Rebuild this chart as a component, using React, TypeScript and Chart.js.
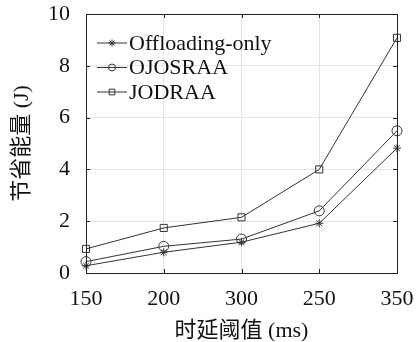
import React, { useEffect, useRef } from "react";
import { Chart, registerables } from "chart.js";

Chart.register(...registerables);

const categories = ["150", "200", "300", "250", "350"];
const offloadingOnly = [0.28, 0.8, 1.19, 1.92, 4.82];
const ojosraa = [0.44, 1.03, 1.31, 2.4, 5.49];
const jodraa = [0.93, 1.74, 2.15, 4.0, 9.08];
const yTicks = [0, 2, 4, 6, 8, 10];

const SERIF = "'Liberation Serif', 'Noto Sans CJK SC', serif";
const LINE = "#333333";

function drawMarker(ctx: CanvasRenderingContext2D, style: string, r: number, x: number, y: number) {
  ctx.save();
  ctx.strokeStyle = LINE;
  ctx.lineWidth = 1;
  ctx.beginPath();
  if (style === "circle") {
    ctx.arc(x, y, r, 0, Math.PI * 2);
  } else if (style === "rect") {
    const s = Math.SQRT1_2 * r;
    ctx.rect(x - s, y - s, 2 * s, 2 * s);
  } else if (style === "star") {
    ctx.moveTo(x - r, y);
    ctx.lineTo(x + r, y);
    ctx.moveTo(x, y - r);
    ctx.lineTo(x, y + r);
    const d = r * Math.SQRT1_2;
    ctx.moveTo(x - d, y - d);
    ctx.lineTo(x + d, y + d);
    ctx.moveTo(x - d, y + d);
    ctx.lineTo(x + d, y - d);
  }
  ctx.stroke();
  ctx.restore();
}

const innerTicks = {
  id: "innerTicks",
  afterDatasetsDraw(chart: any) {
    const { ctx, chartArea: a, scales } = chart;
    const x = scales.x;
    const y = scales.y;
    const len = 4;
    ctx.save();
    ctx.strokeStyle = "#222";
    ctx.lineWidth = 1;
    ctx.beginPath();
    x.ticks.forEach((_: any, i: number) => {
      const px = Math.round(x.getPixelForTick(i)) + 0.5;
      ctx.moveTo(px, a.bottom);
      ctx.lineTo(px, a.bottom - len);
      ctx.moveTo(px, a.top);
      ctx.lineTo(px, a.top + len);
    });
    y.ticks.forEach((_: any, i: number) => {
      const py = Math.round(y.getPixelForTick(i)) + 0.5;
      ctx.moveTo(a.left, py);
      ctx.lineTo(a.left + len, py);
      ctx.moveTo(a.right, py);
      ctx.lineTo(a.right - len, py);
    });
    ctx.stroke();
    ctx.strokeRect(
      Math.round(a.left) + 0.5,
      Math.round(a.top) + 0.5,
      Math.round(a.right - a.left),
      Math.round(a.bottom - a.top)
    );
    ctx.restore();
  },
};

const legendMarkerSize: Record<string, number> = { star: 3.5, circle: 3.5, rect: 4 };

const insideLegend = {
  id: "insideLegend",
  afterDraw(chart: any) {
    const { ctx, chartArea: a } = chart;
    ctx.save();
    const x0 = a.left + 11;
    const lineW = 30;
    const rowH = 24.5;
    const y0 = a.top + 29;
    ctx.font = `22px ${SERIF}`;
    ctx.textBaseline = "middle";
    ctx.textAlign = "left";
    chart.data.datasets.forEach((ds: any, i: number) => {
      const yy = y0 + i * rowH;
      ctx.strokeStyle = LINE;
      ctx.lineWidth = 1;
      ctx.beginPath();
      ctx.moveTo(x0, yy);
      ctx.lineTo(x0 + lineW, yy);
      ctx.stroke();
      drawMarker(ctx, ds.pointStyle, legendMarkerSize[ds.pointStyle] || 3.5, x0 + lineW / 2, yy);
      ctx.fillStyle = "#111";
      ctx.fillText(ds.label, x0 + lineW + 2, yy + 1);
    });
    ctx.restore();
  },
};

export default function App() {
  const ref = useRef<HTMLCanvasElement | null>(null);
  useEffect(() => {
    document.body.style.margin = "0";
    if (!ref.current) return;
    const mk = (label: string, data: number[], pointStyle: string, r: number) => ({
      label,
      data,
      borderColor: LINE,
      borderWidth: 1,
      pointStyle,
      pointRadius: r,
      pointBorderColor: LINE,
      pointBackgroundColor: "rgba(0,0,0,0)",
      pointBorderWidth: 1,
      fill: false,
      tension: 0,
    });
    const chart = new Chart(ref.current, {
      type: "line",
      data: {
        labels: categories,
        datasets: [
          mk("Offloading-only", offloadingOnly, "star", 4),
          mk("OJOSRAA", ojosraa, "circle", 5),
          mk("JODRAA", jodraa, "rect", 5),
        ] as any,
      },
      options: {
        animation: false,
        responsive: false,
        maintainAspectRatio: false,
        layout: { padding: { top: 14, right: 19, left: 0, bottom: 0 } },
        plugins: { legend: { display: false }, tooltip: { enabled: false } },
        scales: {
          x: {
            type: "category",
            offset: false,
            grid: { color: "#e4e4e4", drawTicks: false },
            border: { display: false },
            ticks: { color: "#111", font: { family: SERIF, size: 22 }, padding: 13, maxRotation: 0 },
            title: {
              display: true,
              text: "时延阈值 (ms)",
              color: "#111",
              font: { family: SERIF, size: 22 },
              padding: { top: 0, bottom: -2 },
            },
            afterFit: (s: any) => {
              s.height = 69;
              s.paddingLeft = 0;
              s.paddingRight = 0;
            },
          },
          y: {
            min: 0,
            max: 10,
            afterBuildTicks: (s: any) => {
              s.ticks = yTicks.map((v) => ({ value: v }));
            },
            grid: { color: "#e4e4e4", drawTicks: false },
            border: { display: false },
            ticks: { color: "#111", font: { family: SERIF, size: 22 }, padding: 16 },
            title: {
              display: true,
              text: "节省能量 (J)",
              color: "#111",
              font: { family: SERIF, size: 22 },
              padding: { top: 9, bottom: 0 },
            },
            afterFit: (s: any) => {
              s.width = 86;
              s.paddingTop = 0;
              s.paddingBottom = 0;
            },
          },
        },
      },
      plugins: [innerTicks, insideLegend],
    });
    return () => chart.destroy();
  }, []);
  return (
    <div style={{ width: 416, height: 342, background: "#fff" }}>
      <canvas ref={ref} width={416} height={342} style={{ display: "block" }} />
    </div>
  );
}
